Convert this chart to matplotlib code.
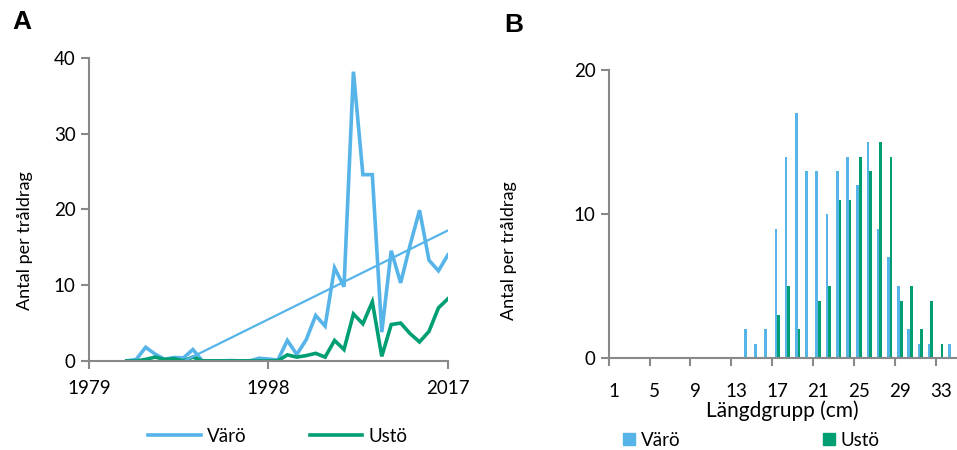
import numpy as np
import matplotlib
matplotlib.use("Agg")
import matplotlib.pyplot as plt
from matplotlib.patches import Patch

plt.rcParams['font.family'] = ['Lato', 'DejaVu Sans']

# panel A: catch per trawl haul per year
years = list(range(1983, 2018))
varo = [0, 0.2, 1.8, 0.9, 0.2, 0.45, 0.4, 1.5, 0, 0, 0, 0.05, 0, 0, 0.35, 0.25,
        0.1, 2.7, 0.85, 2.8, 6.0, 4.6, 12.3, 9.8, 38.2, 24.6, 24.6, 3.8, 14.55,
        10.3, 15.3, 19.9, 13.3, 11.9, 14.0]
usto = [0, 0, 0.2, 0.5, 0.2, 0.3, 0, 0.5, 0, 0, 0, 0, 0, 0, 0, 0,
        0, 0.8, 0.5, 0.7, 1.0, 0.5, 2.7, 1.5, 6.2, 4.9, 7.8, 0.6, 4.8,
        5.0, 3.6, 2.5, 3.9, 7.0, 8.2]

# panel B: length distribution
length_groups = list(range(1, 35))
varo_len = [0]*13 + [2, 1, 2, 9, 14, 17, 13, 13, 10, 13, 14, 12, 15, 9, 7, 5, 2, 1, 1, 0, 1]
usto_len = [0]*13 + [0, 0, 0, 3, 5, 2, 0, 4, 5, 11, 11, 14, 13, 15, 14, 4, 5, 2, 4, 1, 0]

blue = '#56B4E9'
green = '#009E73'
grey = '#898989'

fig = plt.figure(figsize=(9.57, 4.5), dpi=100)

def style_axes(ax):
    for s in ['top', 'right']:
        ax.spines[s].set_visible(False)
    for s in ['left', 'bottom']:
        ax.spines[s].set_color(grey)
        ax.spines[s].set_linewidth(1.5)
    ax.tick_params(colors=grey, labelcolor='black', labelsize=13.5, width=1.5, length=6)

# ---- A ----
ax1 = fig.add_axes([0.093, 0.198, 0.375, 0.673])
ax1.plot(years, varo, color=blue, lw=2.6, label='Värö', solid_joinstyle='miter')
ax1.plot(years, usto, color=green, lw=2.6, label='Ustö', solid_joinstyle='miter')
k, m = np.polyfit(years, varo, 1)
tx = np.array([1983, 2017])
ax1.plot(tx, k*tx + m, color=blue, lw=1.6)
ax1.set_xlim(1979, 2017)
ax1.set_ylim(0, 40)
ax1.set_xticks([1979, 1998, 2017])
ax1.set_yticks([0, 10, 20, 30, 40])
ax1.set_ylabel('Antal per tråldrag', fontsize=13)
ax1.yaxis.set_label_coords(-0.156, 0.396)
style_axes(ax1)
ax1.tick_params(axis='x', pad=8)
ax1.legend(loc='center', bbox_to_anchor=(0.526, -0.248), ncol=2, frameon=False,
           fontsize=13.5, handlelength=2.8, columnspacing=3.4, handletextpad=0.3)

# ---- B ----
ax2 = fig.add_axes([0.636, 0.204, 0.363, 0.640])
x = np.array(length_groups)
w = 0.26
ax2.bar(x - w/2, varo_len, width=w, color=blue, label='Värö')
ax2.bar(x + w/2, usto_len, width=w, color=green, label='Ustö')
ax2.set_xlim(0.5, 34.5)
ax2.set_ylim(0, 20)
ax2.set_yticks([0, 10, 20])
ax2.set_xticks(length_groups[::4])
ax2.set_xticks(np.arange(0.5, 33, 4), minor=True)
ax2.set_ylabel('Antal per tråldrag', fontsize=13)
ax2.yaxis.set_label_coords(-0.265, 0.372)
ax2.set_xlabel('Längdgrupp (cm)', fontsize=15, labelpad=0)
style_axes(ax2)
ax2.tick_params(axis='x', which='major', length=0, pad=18)
ax2.tick_params(axis='x', which='minor', length=6, width=1.5, color=grey)
handles = [Patch(color=blue, label='Värö'), Patch(color=green, label='Ustö')]
ax2.legend(handles=handles, loc='center', bbox_to_anchor=(0.41, -0.285), ncol=2,
           frameon=False, fontsize=13.5, handlelength=0.65, handleheight=0.65,
           columnspacing=7.6, handletextpad=0.3)

fig.text(0.013, 0.952, 'A', fontsize=19, fontweight='bold', family='Liberation Sans', va='center')
fig.text(0.527, 0.944, 'B', fontsize=19, fontweight='bold', family='Liberation Sans', va='center')

fig.savefig('out.png', dpi=100)
